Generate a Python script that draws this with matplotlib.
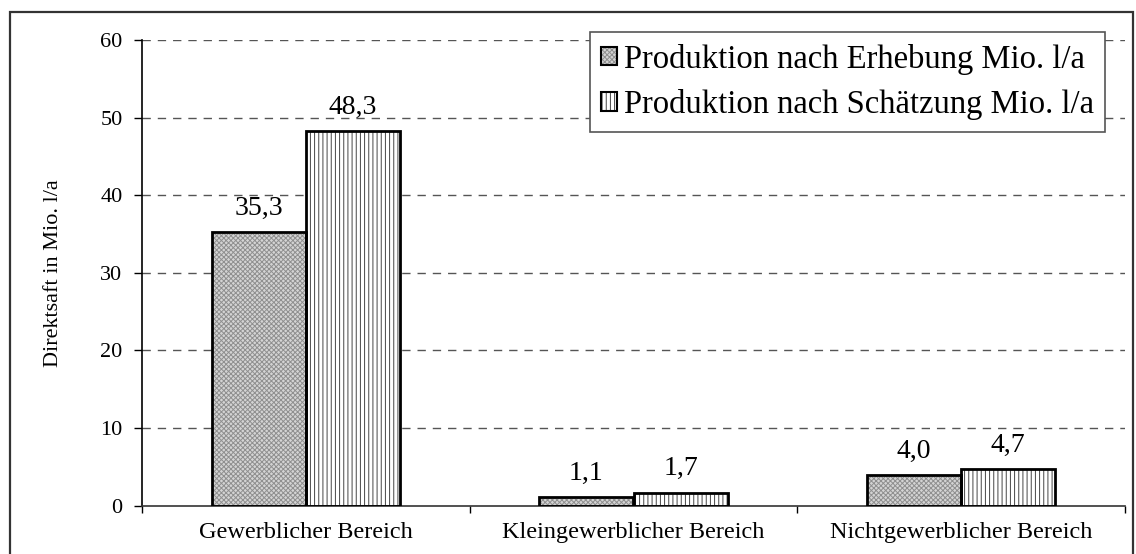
import matplotlib
matplotlib.use("Agg")
import matplotlib.pyplot as plt
from matplotlib.patches import Rectangle
from matplotlib.legend_handler import HandlerTuple
import numpy as np

categories = ["Gewerblicher Bereich", "Kleingewerblicher Bereich", "Nichtgewerblicher Bereich"]
erhebung = [35.3, 1.1, 4.0]
schaetzung = [48.3, 1.7, 4.7]
labels_erhebung = ["35,3", "1,1", "4,0"]
labels_schaetzung = ["48,3", "1,7", "4,7"]
series_names = ["Produktion nach Erhebung Mio. l/a", "Produktion nach Schätzung Mio. l/a"]
yticks = [0, 10, 20, 30, 40, 50, 60]
ylabel = "Direktsaft in Mio. l/a"

plt.rcParams['font.family'] = ['Liberation Serif', 'DejaVu Serif']
plt.rcParams['hatch.linewidth'] = 0.7

fig = plt.figure(figsize=(11.36, 5.54), dpi=100)
ax = fig.add_axes([142/1136, 1-505.7/554, 983/1136, 465.7/554])

# outer border
fig.patches.append(Rectangle((9.5/1136, -0.05), 1123/1136, 1.05 - 12/554,
                             transform=fig.transFigure, fill=False,
                             edgecolor='#333333', linewidth=1.6, zorder=0))

x = np.arange(len(categories))
w = 0.287

S1_FACE, S1_HATCH, S1_PAT = '#d4d4d4', '#8f8f8f', 'xxxxxxx'
S2_FACE, S2_HATCH, S2_PAT = 'white', '#444444', '||||'

ax.bar(x - w/2, erhebung, w, color=S1_FACE, hatch=S1_PAT, edgecolor=S1_HATCH, linewidth=0, zorder=2)
ax.bar(x - w/2, erhebung, w, fill=False, edgecolor='black', linewidth=2, zorder=3)
ax.bar(x + w/2, schaetzung, w, color=S2_FACE, hatch=S2_PAT, edgecolor=S2_HATCH, linewidth=0, zorder=2)
ax.bar(x + w/2, schaetzung, w, fill=False, edgecolor='black', linewidth=2, zorder=3)

for xi, v, t in zip(x - w/2, erhebung, labels_erhebung):
    ax.annotate(t, (xi, v), xytext=(0, 8), textcoords='offset points',
                ha='center', va='bottom', fontsize=20)
for xi, v, t in zip(x + w/2, schaetzung, labels_schaetzung):
    ax.annotate(t, (xi, v), xytext=(0, 8), textcoords='offset points',
                ha='center', va='bottom', fontsize=20)

ax.set_xlim(-0.5, 2.5)
ax.set_ylim(0, 60)
ax.set_yticks(yticks)
ax.set_yticklabels([str(t) for t in yticks], fontsize=16)
for t in yticks[1:]:
    ax.axhline(t, color='#555555', linestyle=(0, (6, 5)), linewidth=1.0, zorder=1)

ax.set_xticks([-0.5, 0.5, 1.5, 2.5])
ax.set_xticklabels([])
ax.set_xticks(x, minor=True)
ax.set_xticklabels(categories, minor=True, fontsize=17.5)
ax.tick_params(axis='x', which='minor', length=0, pad=12)
ax.tick_params(axis='x', which='major', length=5, width=1, direction='out')
ax.tick_params(axis='y', length=6, width=1, direction='out', pad=8)

for s in ['top', 'right']:
    ax.spines[s].set_visible(False)
ax.spines['left'].set_linewidth(1.2)
ax.spines['bottom'].set_linewidth(1.2)
ax.spines['left'].set_color('black')
ax.spines['bottom'].set_color('#333333')

ax.set_ylabel(ylabel, fontsize=16, labelpad=27)

h1a = Rectangle((0, 0), 1, 1, facecolor=S1_FACE, hatch=S1_PAT, edgecolor=S1_HATCH, linewidth=0)
h1b = Rectangle((0, 0), 1, 1, fill=False, edgecolor='black', linewidth=1.5)
h2a = Rectangle((0, 0), 1, 1, facecolor=S2_FACE, hatch=S2_PAT, edgecolor=S2_HATCH, linewidth=0)
h2b = Rectangle((0, 0), 1, 1, fill=False, edgecolor='black', linewidth=1.5)
leg = ax.legend([(h1a, h1b), (h2a, h2b)], series_names,
                handler_map={tuple: HandlerTuple(ndivide=1)},
                loc='upper right', bbox_to_anchor=(0.98, 1.017),
                fontsize=23.5, frameon=True, fancybox=False, framealpha=1,
                edgecolor='#555555', handlelength=0.5, handleheight=0.5,
                handletextpad=0.2, borderpad=0.35, labelspacing=0.45,
                borderaxespad=0)
leg.get_frame().set_linewidth(1.2)
leg.set_zorder(5)

fig.savefig("out.png", dpi=100)
